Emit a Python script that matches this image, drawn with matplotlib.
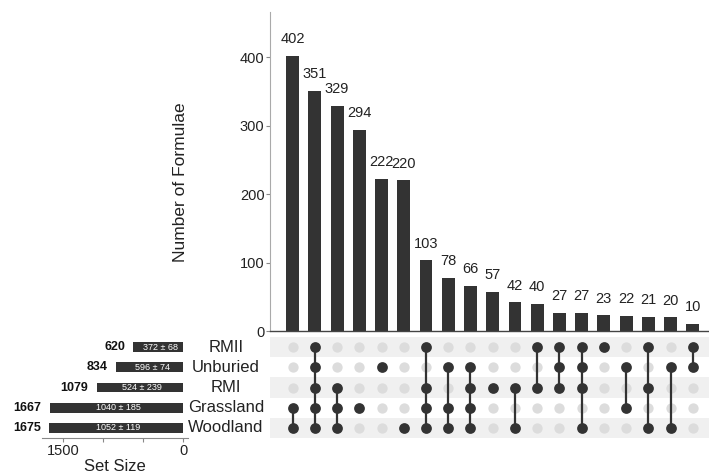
import matplotlib
matplotlib.use("Agg")
import matplotlib.pyplot as plt
import matplotlib.transforms as mtransforms

plt.rcParams['font.family'] = ['Liberation Sans', 'DejaVu Sans']

# Sets, listed top to bottom as drawn in the matrix
set_names = ["RMII", "Unburied", "RMI", "Grassland", "Woodland"]
set_sizes = [620, 834, 1079, 1667, 1675]
set_means = ["372 ± 68", "596 ± 74", "524 ± 239", "1040 ± 185", "1052 ± 119"]

# Intersection sizes (sorted) and their member sets
intersection_sizes = [402, 351, 329, 294, 222, 220, 103, 78, 66, 57,
                      42, 40, 27, 27, 23, 22, 21, 20, 10]
intersection_members = [
    ["Grassland", "Woodland"],
    ["RMII", "Unburied", "RMI", "Grassland", "Woodland"],
    ["RMI", "Grassland", "Woodland"],
    ["Grassland"],
    ["Unburied"],
    ["Woodland"],
    ["RMII", "RMI", "Grassland", "Woodland"],
    ["Unburied", "Grassland", "Woodland"],
    ["Unburied", "RMI", "Grassland", "Woodland"],
    ["RMI"],
    ["RMI", "Woodland"],
    ["RMII", "RMI"],
    ["RMII", "Unburied", "RMI"],
    ["RMII", "Unburied", "RMI", "Woodland"],
    ["RMII"],
    ["Unburied", "Grassland"],
    ["RMII", "RMI", "Woodland"],
    ["Unburied", "Woodland"],
    ["RMII", "Unburied"],
]

DARK = "#333333"
BAND = "#f0f0f0"
INACTIVE = "#dcdcdc"

W, H = 709, 473
fig = plt.figure(figsize=(W / 100, H / 100), dpi=100)


def px_axes(x0, y0, x1, y1):
    return fig.add_axes([x0 / W, 1 - y1 / H, (x1 - x0) / W, (y1 - y0) / H])


n_cols = len(intersection_sizes)
n_rows = len(set_names)
xs = list(range(n_cols))
xlim = (-1.02, 18.73)

# ---- intersection bar chart ----
ax_bar = px_axes(270, 12, 709, 331)
ax_bar.bar(xs, intersection_sizes, width=0.58, color=DARK, zorder=2)
for x, v in zip(xs, intersection_sizes):
    ax_bar.annotate(str(v), (x, v), xytext=(0, 7), textcoords="offset points",
                    ha="center", va="bottom", fontsize=10.5, color="#222222")
ax_bar.set_xlim(*xlim)
ax_bar.set_ylim(0, 466)
ax_bar.set_yticks([0, 100, 200, 300, 400])
ax_bar.set_xticks([])
ax_bar.tick_params(axis="y", labelsize=10.5, length=3, width=0.8,
                   color="#888888", labelcolor="#222222", pad=1)
for s in ("top", "right"):
    ax_bar.spines[s].set_visible(False)
ax_bar.spines["left"].set_color("#aaaaaa")
ax_bar.spines["bottom"].set_color("#444444")
ax_bar.spines["bottom"].set_linewidth(1.0)
ax_bar.set_ylabel("Number of Formulae", fontsize=12.5, color="#222222")
ax_bar.yaxis.set_label_coords(-0.187, 0.467)

# ---- membership matrix ----
ax_mat = px_axes(270, 337, 709, 438)
ax_mat.set_xlim(*xlim)
ax_mat.set_ylim(-0.5, n_rows - 0.5)
row_y = {name: n_rows - 1 - i for i, name in enumerate(set_names)}
for name, y in row_y.items():
    if (n_rows - 1 - y) % 2 == 0:
        ax_mat.axhspan(y - 0.5, y + 0.5, color=BAND, lw=0, zorder=0)
for x, members in zip(xs, intersection_members):
    inactive = [row_y[n] for n in set_names if n not in members]
    active = [row_y[n] for n in members]
    ax_mat.scatter([x] * len(inactive), inactive, s=55, color=INACTIVE,
                   lw=0, zorder=1)
    if len(active) > 1:
        ax_mat.plot([x, x], [min(active), max(active)], color=DARK,
                    lw=1.6, zorder=2)
    ax_mat.scatter([x] * len(active), active, s=60, color=DARK, lw=0,
                   zorder=3)
ax_mat.axis("off")

# ---- set size bars ----
ax_set = px_axes(42, 337, 188, 438)
ys = [row_y[n] for n in set_names]
ax_set.barh(ys, set_sizes, height=0.48, color=DARK)
ax_set.set_xlim(1762, -62)
ax_set.set_ylim(-0.5, n_rows - 0.5)
for y, v, m in zip(ys, set_sizes, set_means):
    ax_set.annotate(str(v), (v, y), xytext=(-6, 0), textcoords="offset points",
                    ha="right", va="center", fontsize=9, fontweight="bold",
                    color="#111111")
    ax_set.text(v / 2 - 30, y, m, ha="center", va="center", fontsize=6.5,
                color="white")
ax_set.set_xticks([1500, 1000, 500, 0])
ax_set.set_xticklabels(["1500", "", "", "0"])
ax_set.set_yticks([])
ax_set.tick_params(axis="x", labelsize=10.5, length=3, width=0.8,
                   color="#888888", labelcolor="#222222", pad=1)
for s in ("top", "right", "left"):
    ax_set.spines[s].set_visible(False)
ax_set.spines["bottom"].set_color("#888888")
ax_set.set_xlabel("Set Size", fontsize=12, color="#222222", labelpad=1)

# set names between the two panels
trans = mtransforms.blended_transform_factory(fig.transFigure, ax_mat.transData)
for name, y in row_y.items():
    fig.text(226 / W, y, name, transform=trans, ha="center", va="center",
             fontsize=12, color="#222222")

fig.savefig("out.png", dpi=100)
